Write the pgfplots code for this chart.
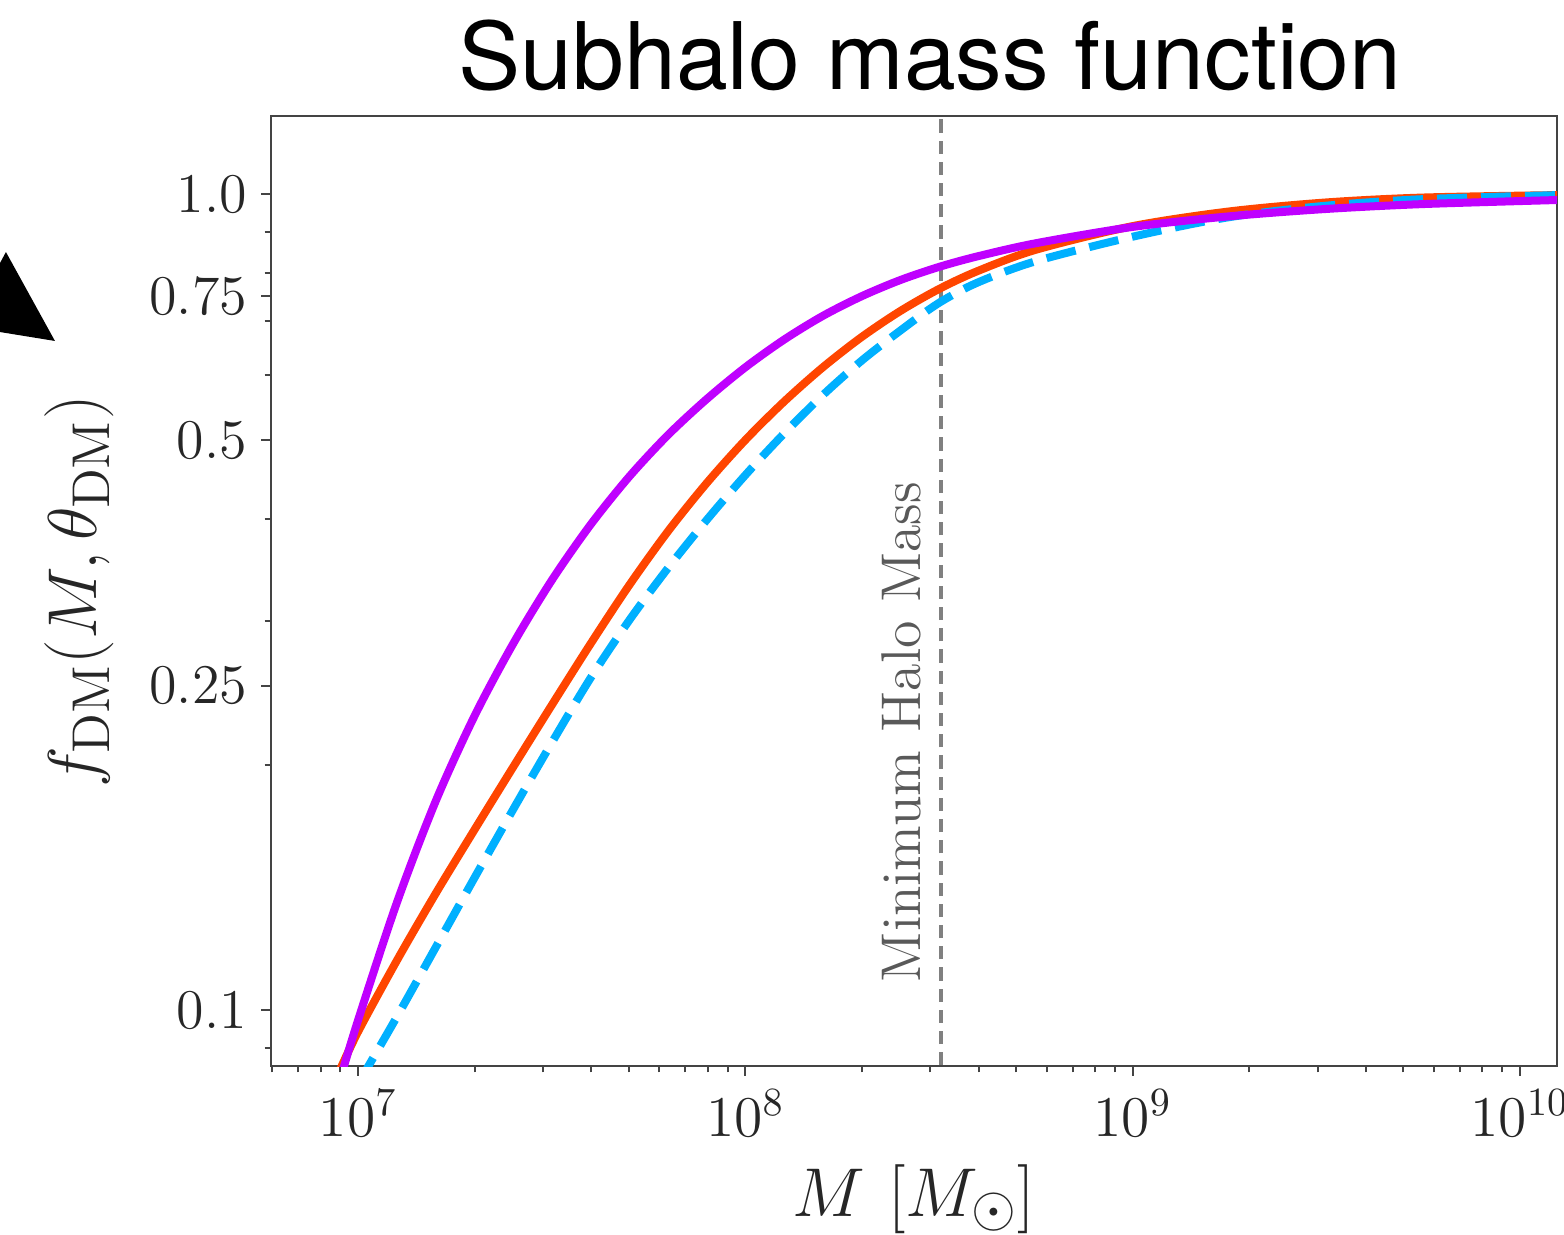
\documentclass[border=0pt]{standalone}
\usepackage{fontspec}
\usepackage{pgfplots}
\pgfplotsset{compat=1.18}
\newfontfamily\titlefont{TeX Gyre Heros}
\definecolor{cpurple}{RGB}{191,0,255}
\definecolor{corange}{RGB}{255,69,0}
\definecolor{ccyan}{RGB}{0,176,255}
\definecolor{axgray}{RGB}{68,68,68}
\begin{document}
\begin{tikzpicture}
\begin{axis}[
  scale only axis, width=321.5pt, height=237.5pt,
  xmode=log, ymode=log,
  xmin=5.96e6, xmax=1.246e10, ymin=0.0855, ymax=1.247,
  xtick={1e7,1e8,1e9,1e10},
  minor xtick={6e6,7e6,8e6,9e6,2e7,3e7,4e7,5e7,6e7,7e7,8e7,9e7,2e8,3e8,4e8,5e8,6e8,7e8,8e8,9e8,2e9,3e9,4e9,5e9,6e9,7e9,8e9,9e9},
  ytick={0.1,0.25,0.5,0.75,1.0},
  yticklabels={0.1,0.25,0.5,0.75,1.0},
  minor ytick={0.09,0.2,0.3,0.4,0.6,0.7,0.8,0.9},
  tick pos=left, tick align=outside,
  major tick length=2.5pt, minor tick length=1.6pt,
  axis line style={axgray, line width=0.6pt},
  tick style={axgray, line width=0.5pt},
  tick label style={font=\fontsize{14}{16}\selectfont, text=black!85},
  xlabel={$M\ [M_\odot]$},
  ylabel={$f_{\mathrm{DM}}(M,\theta_{\mathrm{DM}})$},
  label style={font=\fontsize{19}{23}\selectfont, text=black!85},
  ylabel style={yshift=2pt},
]
% vertical marker
\addplot[gray, line width=0.8pt, dash pattern=on 3.3pt off 2pt] coordinates {(3.2e8,0.05) (3.2e8,2)};
% orange
\addplot[corange, line width=2pt, smooth] table {
8.913e6 0.0839
1.000e7 0.0942
1.259e7 0.1151
1.585e7 0.1390
1.995e7 0.1663
2.512e7 0.1986
3.162e7 0.2366
3.981e7 0.2812
5.012e7 0.3319
6.310e7 0.3864
7.943e7 0.4426
1.000e8 0.5000
1.259e8 0.5572
1.585e8 0.6138
1.995e8 0.6683
2.512e8 0.7194
3.162e8 0.7656
3.981e8 0.8054
5.623e8 0.8551
1.000e9 0.9141
1.778e9 0.9528
3.162e9 0.9772
5.623e9 0.9908
1.259e10 0.9977
};
% cyan dashed
\addplot[ccyan, line width=2pt, dash pattern=on 7.5pt off 3.5pt, smooth] table {
1.000e7 0.0813
1.259e7 0.0982
1.585e7 0.1194
1.995e7 0.1452
2.512e7 0.1762
3.162e7 0.2128
3.981e7 0.2553
5.012e7 0.3006
6.310e7 0.3483
7.943e7 0.3990
1.000e8 0.4529
1.259e8 0.5093
1.585e8 0.5675
1.995e8 0.6252
2.512e8 0.6808
3.162e8 0.7362
3.981e8 0.7798
5.623e8 0.8279
1.000e9 0.8872
1.778e9 0.9376
3.162e9 0.9683
5.623e9 0.9863
1.259e10 0.9977
};
% purple
\addplot[cpurple, line width=2pt, smooth] table {
8.913e6 0.0813
1.000e7 0.0973
1.259e7 0.1355
1.585e7 0.1803
1.995e7 0.2291
2.512e7 0.2812
3.162e7 0.3365
3.981e7 0.3936
5.012e7 0.4508
6.310e7 0.5070
7.943e7 0.5610
1.000e8 0.6138
1.259e8 0.6637
1.585e8 0.7096
1.995e8 0.7499
2.512e8 0.7852
3.162e8 0.8147
3.981e8 0.8395
5.623e8 0.8710
1.000e9 0.9120
1.778e9 0.9397
3.162e9 0.9594
5.623e9 0.9727
1.259e10 0.9840
};
\coordinate (lbl) at (axis cs:2.825e8,0.2193);
\coordinate (ttl) at (rel axis cs:0.5124,1.0274);
\coordinate (t1) at (rel axis cs:-0.2107,0.8453);
\coordinate (t2) at (rel axis cs:-0.2061,0.8568);
\coordinate (t3) at (rel axis cs:-0.1680,0.7632);
\coordinate (t4) at (rel axis cs:-0.2107,0.7726);
\coordinate (bbtl) at (rel axis cs:-0.21073,1.12211);
\coordinate (bbbr) at (rel axis cs:1.005443,-0.176842);
\end{axis}
\node[rotate=90, anchor=base, text=black!65, font=\fontsize{14}{16}\selectfont] at (lbl) {Minimum Halo Mass};
\node[anchor=base, font=\titlefont\fontsize{23.3}{28}\selectfont] at (ttl) {Subhalo mass function};
\fill (t1)--(t2)--(t3)--(t4)--cycle;
\pgfresetboundingbox
\path[use as bounding box] (bbtl) rectangle (bbbr);
\end{tikzpicture}
\end{document}
